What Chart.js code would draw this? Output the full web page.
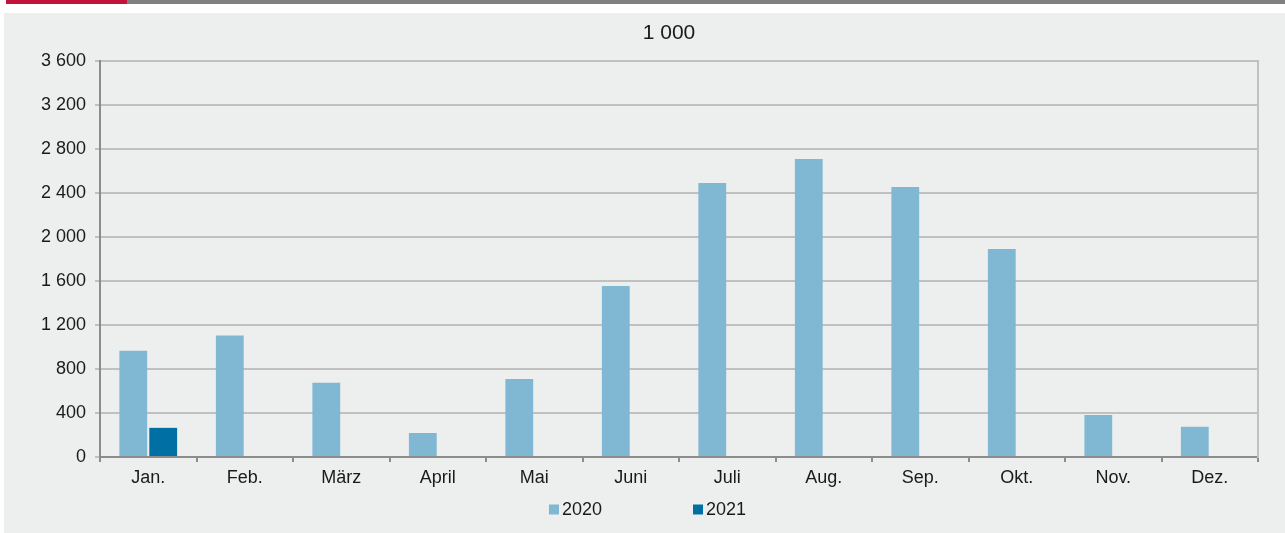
<!DOCTYPE html>
<html>
    <head>
        <title>1 000</title>
        <meta charset="UTF-8">
        <style>
            body { margin: 0; background: #ffffff; width: 1285px; height: 533px; position: relative; overflow: hidden; }
            #redBar { position: absolute; left: 6px; top: 0; width: 121px; height: 4px; background: #c0143c; }
            #greyBar { position: absolute; left: 127px; top: 0; width: 1158px; height: 4px; background: #808080; }
            #panel { position: absolute; left: 4px; top: 13px; width: 1281px; height: 520px; background: #edefee; }
        </style>
    </head>
    <body>
        <div id="redBar"></div>
        <div id="greyBar"></div>
        <div id="panel">
            <canvas id="barChart" width="1281" height="520"></canvas>
        </div>
        <script src="https://cdn.jsdelivr.net/npm/chart.js/dist/chart.umd.min.js"></script>
        <script>
          // months on the x axis
          const months = ['Jan.', 'Feb.', 'März', 'April', 'Mai', 'Juni', 'Juli', 'Aug.', 'Sep.', 'Okt.', 'Nov.', 'Dez.'];
          // values
          const values2020 = [965, 1105, 675, 218, 710, 1555, 2490, 2710, 2455, 1890, 382, 275];
          const values2021 = [265, null, null, null, null, null, null, null, null, null, null, null];
          const yTicks = [0, 400, 800, 1200, 1600, 2000, 2400, 2800, 3200, 3600];
          const chartTitle = '1 000';

          const FONT = 'Arial, "Liberation Sans", sans-serif';
          const TEXT = '#1a1a1a';

          // thousands with a space, as in the original
          function spaced(v){
            return String(v).replace(/\B(?=(\d{3})+(?!\d))/g, ' ');
          }

          // title and legend drawn by hand (title sits a bit off centre, legend has a wide gap)
          const titleAndLegend = {
            id: 'titleAndLegend',
            afterDraw(chart){
              const ctx = chart.ctx;
              const sets = chart.data.datasets;
              ctx.save();
              ctx.textBaseline = 'middle';

              //title
              ctx.font = '21px ' + FONT;
              ctx.fillStyle = TEXT;
              ctx.textAlign = 'center';
              ctx.fillText(chartTitle, chart.chartArea.left + (chart.chartArea.right - chart.chartArea.left) / 2 - 10, 20);

              //legend
              ctx.textAlign = 'left';
              ctx.font = '18px ' + FONT;
              const box = 10, gapText = 3, gapItem = 91;
              let total = 0;
              sets.forEach((d, i) => {
                total += box + gapText + ctx.measureText(d.label).width;
                if(i < sets.length - 1) total += gapItem;
              });
              let x = chart.width / 2 + 3 - total / 2;
              const y = 496.5;
              sets.forEach(d => {
                ctx.fillStyle = d.backgroundColor;
                ctx.fillRect(x, y - box / 2, box, box);
                x += box + gapText;
                ctx.fillStyle = TEXT;
                ctx.fillText(d.label, x, y + 1);
                x += ctx.measureText(d.label).width + gapItem;
              });
              ctx.restore();
            }
          };

          const CHART = document.getElementById('barChart');
          new Chart(CHART, {
            type: 'bar',
            data: {
              labels: months,
              datasets: [
                {
                  label: '2020',
                  data: values2020,
                  backgroundColor: '#80b7d3'
                },
                {
                  label: '2021',
                  data: values2021,
                  backgroundColor: '#0070a4'
                }
              ]
            },
            options: {
              responsive: false,
              animation: false,
              events: [],
              categoryPercentage: 0.62,
              barPercentage: 0.93,
              layout: { padding: { left: 0, right: 27, top: 48, bottom: 0 } },
              plugins: {
                legend: { display: false },
                tooltip: { enabled: false },
                title: { display: false }
              },
              scales: {
                x: {
                  grid: {
                    offset: true,
                    drawOnChartArea: false,
                    color: '#8c8c8c',
                    lineWidth: 2,
                    tickLength: 5
                  },
                  border: { color: '#8c8c8c', width: 2 },
                  ticks: {
                    color: TEXT,
                    font: { family: FONT, size: 18 },
                    padding: 5,
                    maxRotation: 0,
                    autoSkip: false
                  },
                  afterFit(scale){ scale.height = 76; }
                },
                y: {
                  min: 0,
                  max: 3600,
                  afterBuildTicks(scale){ scale.ticks = yTicks.map(v => ({ value: v })); },
                  grid: {
                    color: '#c0c0c0',
                    lineWidth: 2,
                    tickLength: 5
                  },
                  border: { color: '#8c8c8c', width: 2 },
                  ticks: {
                    color: TEXT,
                    font: { family: FONT, size: 18 },
                    padding: 9,
                    callback: function(value){ return spaced(value); }
                  },
                  afterFit(scale){ scale.width = 96; }
                },
                yRight: {
                  position: 'right',
                  min: 0,
                  max: 3600,
                  grid: { drawOnChartArea: false, drawTicks: false },
                  border: { color: '#c0c0c0', width: 2 },
                  ticks: { display: false },
                  afterFit(scale){ scale.width = 0; }
                }
              }
            },
            plugins: [titleAndLegend]
          });
        </script>
    </body>
</html>
